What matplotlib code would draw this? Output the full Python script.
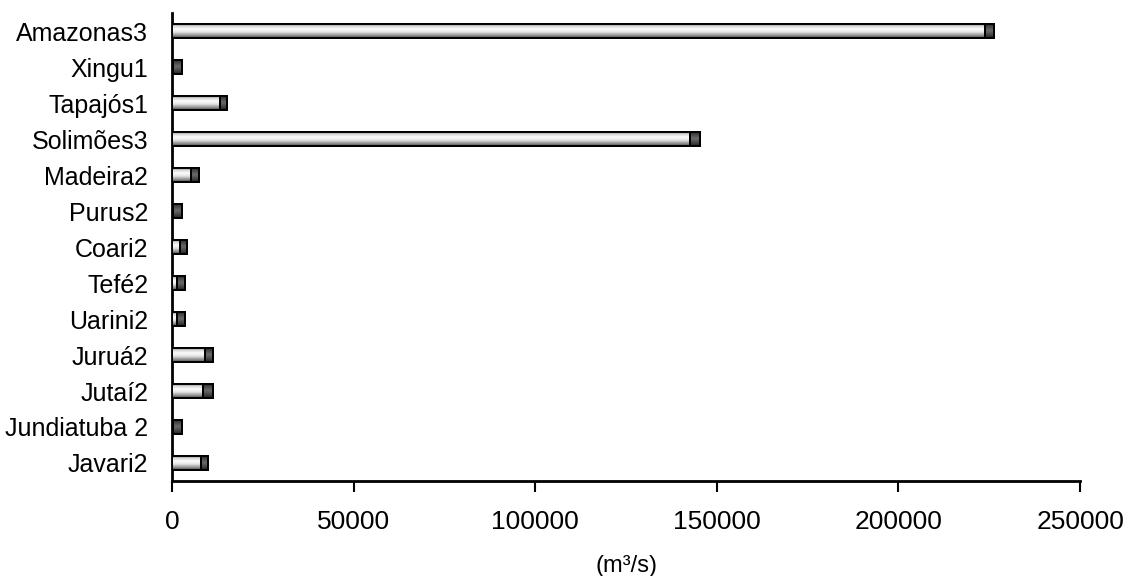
import numpy as np
import matplotlib
matplotlib.use('Agg')
import matplotlib.pyplot as plt
from matplotlib.colors import LinearSegmentedColormap

# Vazão por estação (m3/s): parte clara + segmento escuro
estacoes = ['Amazonas3', 'Xingu1', 'Tapajós1', 'Solimões3', 'Madeira2', 'Purus2',
            'Coari2', 'Tefé2', 'Uarini2', 'Juruá2', 'Jutaí2', 'Jundiatuba 2', 'Javari2']
vazao_clara = [223900, 200, 13200, 142700, 5200, 200, 2100, 1400, 1400, 9100, 8600, 200, 8000]
vazao_escura = [2500, 2600, 2000, 2700, 2200, 2600, 2000, 2200, 2200, 2300, 2750, 2600, 2000]
xticks = [0, 50000, 100000, 150000, 200000, 250000]

plt.rcParams['font.family'] = ['Liberation Sans', 'DejaVu Sans']

cmap_clara = LinearSegmentedColormap.from_list(
    'clara', ['#5c5c5c', '#d8d8d8', '#fbfbfb', '#e6e6e6', '#9c9c9c', '#4e4e4e'])
cmap_escura = LinearSegmentedColormap.from_list(
    'escura', ['#1e1e1e', '#4a4a4a', '#6a6a6a', '#4a4a4a', '#1e1e1e'])
grad = np.linspace(0, 1, 64).reshape(-1, 1)

fig = plt.figure(figsize=(11.31, 5.76), dpi=100)
ax = fig.add_axes([0.152, 0.165, 0.803, 0.812])

y = np.arange(len(estacoes))
altura = 0.4
b1 = ax.barh(y, vazao_clara, height=altura, color='#dddddd', edgecolor='black', linewidth=1.4, zorder=3)
b2 = ax.barh(y, vazao_escura, left=vazao_clara, height=altura, color='#3c3c3c',
             edgecolor='black', linewidth=1.4, zorder=3)

# preenchimento em degrade (efeito cilindro) recortado em cada barra
for barras, cm in ((b1, cmap_clara), (b2, cmap_escura)):
    for p in barras:
        x0, y0 = p.get_x(), p.get_y()
        w, h = p.get_width(), p.get_height()
        im = ax.imshow(grad, cmap=cm, aspect='auto', extent=(x0, x0 + w, y0 + h, y0),
                       zorder=3.5, interpolation='bilinear')
        im.set_clip_path(p)
        # re-desenha a borda por cima do degrade
        ax.add_patch(plt.Rectangle((x0, y0), w, h, fill=False, edgecolor='black',
                                   linewidth=1.4, zorder=4))

ax.set_xlim(0, 250000)
ax.set_ylim(len(estacoes) - 0.5, -0.5)
ax.set_yticks(y)
ax.set_yticklabels(estacoes, fontsize=18)
ax.set_xticks(xticks)
ax.set_xticklabels([str(v) for v in xticks], fontsize=19)
ax.tick_params(axis='y', length=0, pad=17)
ax.tick_params(axis='x', direction='out', length=8, width=1.5, pad=13)
ax.set_xlabel('(m³/s)', fontsize=17, labelpad=15)

for s in ['top', 'right']:
    ax.spines[s].set_visible(False)
for s in ['left', 'bottom']:
    ax.spines[s].set_linewidth(2)

fig.savefig('out.png', dpi=100)
